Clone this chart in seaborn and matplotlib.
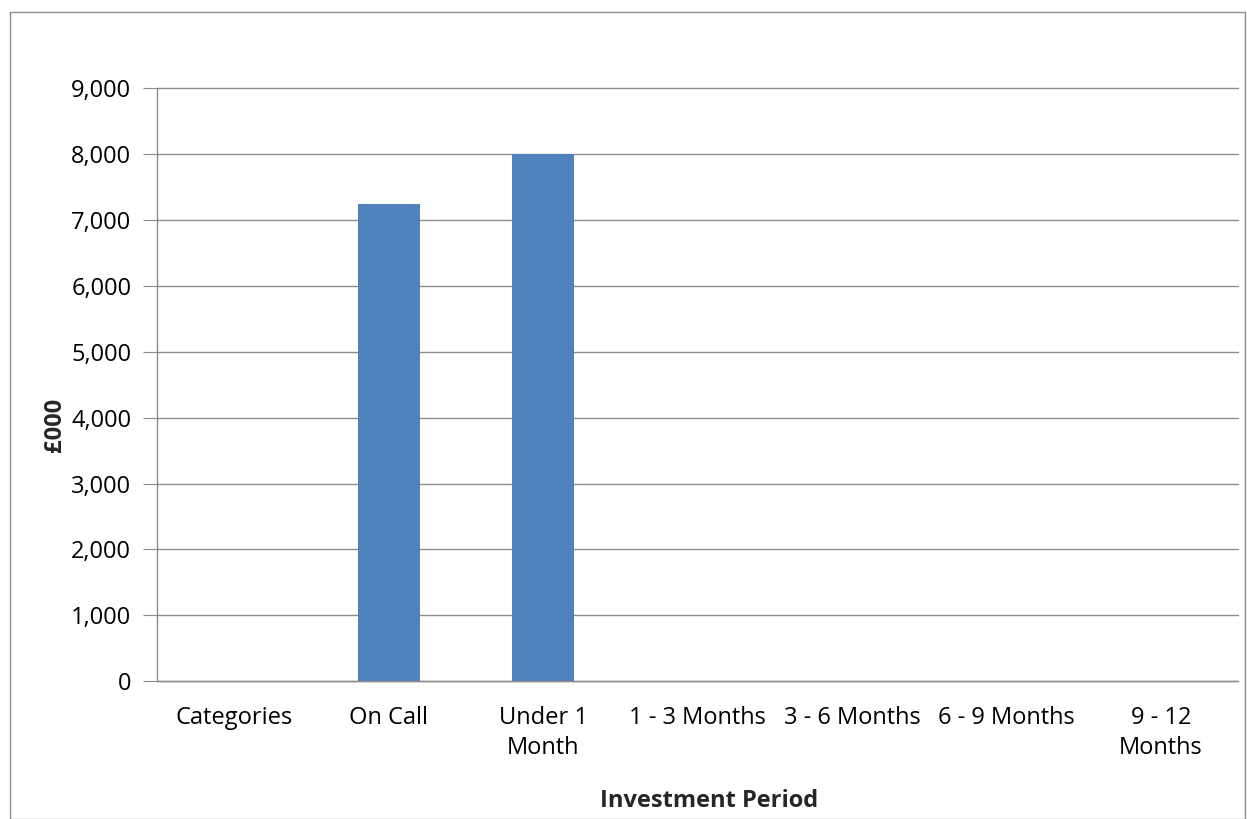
import matplotlib
matplotlib.use("Agg")
import matplotlib.pyplot as plt
import seaborn as sns
import pandas as pd
from matplotlib.patches import Rectangle

# chart data
categories = ["Categories", "On Call", "Under 1\nMonth", "1 - 3 Months",
              "3 - 6 Months", "6 - 9 Months", "9 - 12\nMonths"]
amounts = [0, 7240, 8000, 0, 0, 0, 0]
y_ticks = [0, 1000, 2000, 3000, 4000, 5000, 6000, 7000, 8000, 9000]

W, H = 1247, 819
FS = 17

sns.set_style("white")
plt.rcParams["font.family"] = ["Open Sans", "DejaVu Sans"]

fig = plt.figure(figsize=(W / 100, H / 100), dpi=100)
ax = fig.add_axes([157 / W, (H - 681) / H, (1238 - 157) / W, (681 - 88.5) / H])

df = pd.DataFrame({"period": categories, "amount": amounts})
sns.barplot(data=df, x="period", y="amount", color="#4F81BD", width=0.4,
            saturation=1, linewidth=0, ax=ax)

ax.set_ylim(0, 9000)
ax.set_xlim(-0.5, len(categories) - 0.5)
ax.set_yticks(y_ticks)
ax.set_yticklabels([f"{v:,}" for v in y_ticks])
ax.yaxis.grid(True, color="#8c8c8c", linewidth=1)
for gl in ax.get_ygridlines():
    gl.set_clip_on(False)
ax.set_axisbelow(True)

for s in ["top", "right"]:
    ax.spines[s].set_visible(False)
for s in ["left", "bottom"]:
    ax.spines[s].set_color("#8c8c8c")
    ax.spines[s].set_linewidth(1)

ax.tick_params(axis="y", length=10, color="#8c8c8c", pad=8.5, labelsize=FS,
               labelcolor="#000000", left=True)
ax.tick_params(axis="x", length=0, pad=18, labelsize=FS, labelcolor="#000000")
for lbl in ax.get_xticklabels():
    lbl.set_verticalalignment("top")
    lbl.set_linespacing(1.35)

ax.set_xlabel("")
ax.set_ylabel("")
fig.text(55 / W, 1 - 425 / H, "£000", rotation=90, ha="center", va="center",
         fontsize=FS, fontweight="bold")
fig.text(709 / W, 1 - 801 / H, "Investment Period", ha="center", va="center",
         fontsize=FS, fontweight="bold")

# outer chart border
fig.patches.append(Rectangle((9.5 / W, 0), (W - 12) / W, (H - 11.5) / H,
                             transform=fig.transFigure, fill=False,
                             edgecolor="#8c8c8c", linewidth=1))

fig.savefig("out.png", dpi=100, facecolor="white")
